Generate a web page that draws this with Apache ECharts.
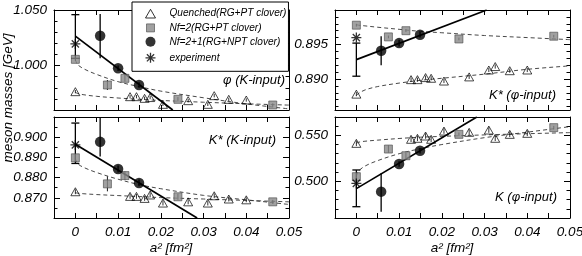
<!DOCTYPE html>
<html><head><meta charset="utf-8">
<script src="https://cdn.jsdelivr.net/npm/echarts@6/dist/echarts.min.js"></script>
<style>html,body{margin:0;padding:0;background:#fff}#c{width:582px;height:256px}</style>
</head><body><div id="c"></div>
<script>
// ---------- data (a^2 in fm^2, masses in GeV) ----------
const xQuenched = [0, 0.0128, 0.0143, 0.0162, 0.0175, 0.0205, 0.0264, 0.031, 0.0325, 0.0359, 0.040];
const xNf2 = [0, 0.0075, 0.0116, 0.0240, 0.0462];
const xNf21 = [0.0058, 0.0100, 0.0149];
const xExp = [0];
const xFit = [0, 0.0005, 0.002, 0.005, 0.01, 0.015, 0.02, 0.03, 0.04, 0.05];
const xTickLabels = [0, 0.01, 0.02, 0.03, 0.04, 0.05];

// phi (K-input)
const phiK_q = [0.9765, 0.972, 0.972, 0.9705, 0.9712, 0.9651, 0.9684, 0.9651, 0.9729, 0.9696, 0.969];
const phiK_qErr = [0.0015, 0.0015, 0.0015, 0.0015, 0.0015, 0.0015, 0.0015, 0.0015, 0.0015, 0.0015, 0.0015];
const phiK_nf2 = [1.0056, 0.9825, 0.9885, 0.9696, 0.9645];
const phiK_nf2Err = [0.0015, 0.0045, 0.003, 0.002, 0.0015];
const phiK_nf21 = [1.0269, 0.9975, 0.9825];
const phiK_nf21Lo = [1.0065, 0.995, 0.980];
const phiK_nf21Hi = [1.0465, 1.000, 0.985];
const phiK_exp = [1.0195];
const phiK_extrap = [1.0065, 1.0458];
const phiK_lineX = [0, 0.0228];
const phiK_lineY = [1.0265, 0.96];
const phiK_fitQ = [0.976, 0.9749, 0.9737, 0.9723, 0.9708, 0.9696, 0.9686, 0.967, 0.9656, 0.9644];
const phiK_fitNf2 = [1.0055, 1.001, 0.997, 0.992, 0.9855, 0.981, 0.977, 0.971, 0.9655, 0.961];
const phiK_yLabels = [1.0, 1.05];

// K* (K-input)
const kstK_q = [0.873, 0.8707, 0.8707, 0.8697, 0.8714, 0.8674, 0.868, 0.8674, 0.871, 0.8694, 0.869];
const kstK_qErr = [0.0012, 0.0012, 0.0012, 0.0012, 0.0012, 0.0012, 0.0012, 0.0012, 0.0012, 0.0012, 0.0012];
const kstK_nf2 = [0.8898, 0.8769, 0.881, 0.8705, 0.868];
const kstK_nf2Err = [0.0015, 0.0037, 0.002, 0.0015, 0.001];
const kstK_nf21 = [0.8977, 0.8843, 0.8773];
const kstK_nf21Lo = [0.8905, 0.8825, 0.8757];
const kstK_nf21Hi = [0.910, 0.886, 0.879];
const kstK_exp = [0.8962];
const kstK_extrap = [0.887, 0.907];
const kstK_lineX = [0, 0.0285];
const kstK_lineY = [0.8965, 0.86];
const kstK_fitQ = [0.8725, 0.8723, 0.872, 0.8716, 0.8711, 0.8706, 0.8701, 0.8694, 0.8687, 0.868];
const kstK_fitNf2 = [0.8895, 0.887, 0.885, 0.8825, 0.8792, 0.8765, 0.8745, 0.8712, 0.869, 0.8667];
const kstK_yLabels = [0.87, 0.88, 0.89, 0.90];

// K* (phi-input)
const kstP_q = [0.8878, 0.8899, 0.8899, 0.8902, 0.8901, 0.8897, 0.8903, 0.8913, 0.8918, 0.8912, 0.8913];
const kstP_qErr = [0.0003, 0.0003, 0.0003, 0.0003, 0.0003, 0.0003, 0.0003, 0.0003, 0.0003, 0.0003, 0.0003];
const kstP_nf2 = [0.8978, 0.8961, 0.897, 0.8958, 0.8962];
const kstP_nf2Err = [0.0002, 0.0002, 0.0002, 0.0002, 0.0002];
const kstP_nf21 = [0.8941, 0.8952, 0.8964];
const kstP_nf21Lo = [0.892, 0.8947, 0.896];
const kstP_nf21Hi = [0.8962, 0.8957, 0.8968];
const kstP_exp = [0.896];
const kstP_extrap = [0.8904, 0.8952];
const kstP_lineX = [0, 0.0305];
const kstP_lineY = [0.8928, 0.900];
const kstP_fitQ = [0.8876, 0.8879, 0.8884, 0.8889, 0.8894, 0.8898, 0.8901, 0.8907, 0.8914, 0.8919];
const kstP_fitNf2 = [0.8979, 0.8978, 0.8977, 0.8975, 0.8972, 0.8969, 0.8967, 0.8963, 0.896, 0.8957];
const kstP_yLabels = [0.89, 0.895];

// K (phi-input)
const kP_q = [0.5413, 0.5457, 0.5468, 0.5493, 0.5457, 0.5547, 0.5533, 0.5558, 0.5468, 0.5511, 0.5522];
const kP_qErr = [0.003, 0.003, 0.003, 0.003, 0.003, 0.003, 0.003, 0.003, 0.003, 0.003, 0.003];
const kP_nf2 = [0.505, 0.5351, 0.5278, 0.5511, 0.5584];
const kP_nf2Err = [0.004, 0.004, 0.003, 0.002, 0.002];
const kP_nf21 = [0.4887, 0.5188, 0.5333];
const kP_nf21Lo = [0.4668, 0.5158, 0.5303];
const kP_nf21Hi = [0.5087, 0.5218, 0.5363];
const kP_exp = [0.4977];
const kP_extrap = [0.4723, 0.5123];
const kP_lineX = [0, 0.0282];
const kP_lineY = [0.492, 0.570];
const kP_fitQ = [0.5413, 0.5425, 0.5436, 0.5448, 0.5466, 0.548, 0.5489, 0.5505, 0.5518, 0.553];
const kP_fitNf2 = [0.5055, 0.511, 0.5165, 0.5225, 0.53, 0.5355, 0.54, 0.5475, 0.5535, 0.5595];
const kP_yLabels = [0.50, 0.55];

const legendNames = ['Quenched(RG+PT clover)', 'Nf=2(RG+PT clover)', 'Nf=2+1(RG+NPT clover)', 'experiment'];

// ---------- layout ----------
const FONT = '"Liberation Sans", Arial, sans-serif';
const X_MIN = -0.005, X_MAX = 0.05;
const STAR = 'path://M0,-5L0,5M-5,0L5,0M-3.6,-3.6L3.6,3.6M-3.6,3.6L3.6,-3.6';
// legend icons: a 28x10 box with the marker drawn in its middle
const ICON_TRI = 'path://M0,0M28,10M9,9.5L14,0.8L19,9.5Z';
const ICON_RECT = 'path://M0,0M28,10M10,1L18,1L18,9L10,9Z';
const ICON_CIRC = 'path://M0,0M28,10M19,5A5,5,0,1,1,9,5A5,5,0,1,1,19,5Z';
const ICON_STAR = 'path://M0,0M28,10M14,0L14,10M9,5L19,5M10.4,1.4L17.6,8.6M10.4,8.6L17.6,1.4';

function steps(a, b, s) {
  const out = [];
  const n0 = Math.ceil(a / s - 1e-7), n1 = Math.floor(b / s + 1e-7);
  for (let k = n0; k <= n1; k++) out.push(+(k * s).toFixed(6));
  return out;
}
const zip = (xs, ys) => xs.map((x, i) => [x, ys[i]]);

const panels = [
  {grid: {left: 54, top: 10, width: 235, height: 100}, ymin: 0.96, ymax: 1.05, majorStep: 0.05, minorStep: 0.01, labels: phiK_yLabels, xlab: false,
   q: phiK_q, qe: phiK_qErr, n2: phiK_nf2, n2e: phiK_nf2Err, n21: phiK_nf21, lo: phiK_nf21Lo, hi: phiK_nf21Hi, ex: phiK_exp, extrap: phiK_extrap, lx: phiK_lineX, ly: phiK_lineY, fq: phiK_fitQ, f2: phiK_fitNf2},
  {grid: {left: 54, top: 117, width: 235, height: 101}, ymin: 0.86, ymax: 0.91, majorStep: 0.01, minorStep: 0.005, labels: kstK_yLabels, xlab: true,
   q: kstK_q, qe: kstK_qErr, n2: kstK_nf2, n2e: kstK_nf2Err, n21: kstK_nf21, lo: kstK_nf21Lo, hi: kstK_nf21Hi, ex: kstK_exp, extrap: kstK_extrap, lx: kstK_lineX, ly: kstK_lineY, fq: kstK_fitQ, f2: kstK_fitNf2},
  {grid: {left: 335, top: 10, width: 235, height: 100}, ymin: 0.8855, ymax: 0.900, majorStep: 0.005, minorStep: 0.001, labels: kstP_yLabels, xlab: false,
   q: kstP_q, qe: kstP_qErr, n2: kstP_nf2, n2e: kstP_nf2Err, n21: kstP_nf21, lo: kstP_nf21Lo, hi: kstP_nf21Hi, ex: kstP_exp, extrap: kstP_extrap, lx: kstP_lineX, ly: kstP_lineY, fq: kstP_fitQ, f2: kstP_fitNf2},
  {grid: {left: 335, top: 117, width: 235, height: 101}, ymin: 0.46, ymax: 0.57, majorStep: 0.05, minorStep: 0.01, labels: kP_yLabels, xlab: true,
   q: kP_q, qe: kP_qErr, n2: kP_nf2, n2e: kP_nf2Err, n21: kP_nf21, lo: kP_nf21Lo, hi: kP_nf21Hi, ex: kP_exp, extrap: kP_extrap, lx: kP_lineX, ly: kP_lineY, fq: kP_fitQ, f2: kP_fitNf2}
];

const labelStyle = {fontFamily: FONT, fontStyle: 'italic', fontSize: 13.5, color: '#000'};
const grids = [], xAxes = [], yAxes = [], series = [];

function renderErr(params, api) {
  const x = api.value(0), lo = api.value(1), hi = api.value(2), cap = api.value(3), w = api.value(4);
  const a = api.coord([x, lo]), b = api.coord([x, hi]);
  const st = {stroke: '#000', lineWidth: w};
  const ch = [{type: 'line', shape: {x1: a[0], y1: a[1], x2: b[0], y2: b[1]}, style: st}];
  if (cap > 0) {
    ch.push({type: 'line', shape: {x1: a[0] - cap, y1: a[1], x2: a[0] + cap, y2: a[1]}, style: st});
    ch.push({type: 'line', shape: {x1: b[0] - cap, y1: b[1], x2: b[0] + cap, y2: b[1]}, style: st});
  }
  return {type: 'group', children: ch};
}

panels.forEach((p, i) => {
  grids.push(Object.assign({containLabel: false, outerBoundsMode: 'none', show: false}, p.grid));
  const xt = steps(X_MIN, X_MAX, 0.005);
  ['bottom', 'top'].forEach(pos => {
    xAxes.push({
      gridIndex: i, type: 'value', position: pos, min: X_MIN, max: X_MAX,
      axisLine: {show: true, onZero: false, lineStyle: {color: '#000', width: 1}},
      axisTick: {show: true, inside: true, length: 5, customValues: xt, lineStyle: {color: '#000', width: 1}},
      axisLabel: Object.assign({show: pos === 'bottom' && p.xlab, customValues: xTickLabels, margin: 7,
        formatter: v => (Math.abs(v) < 1e-9 ? '0' : (+v).toFixed(2))}, labelStyle),
      splitLine: {show: false}
    });
  });
  const majors = steps(p.ymin, p.ymax, p.majorStep);
  const minors = steps(p.ymin, p.ymax, p.minorStep).filter(v => !majors.some(m => Math.abs(m - v) < 1e-7));
  ['left', 'right'].forEach(pos => {
    yAxes.push({
      gridIndex: i, type: 'value', position: pos, min: p.ymin, max: p.ymax,
      axisLine: {show: true, onZero: false, lineStyle: {color: '#000', width: 1}},
      axisTick: {show: true, inside: true, length: 6, customValues: majors, lineStyle: {color: '#000', width: 1}},
      axisLabel: Object.assign({show: pos === 'left', customValues: p.labels, margin: 7,
        formatter: v => (+v).toFixed(3)}, labelStyle),
      splitLine: {show: false}
    });
    yAxes.push({
      gridIndex: i, type: 'value', position: pos, min: p.ymin, max: p.ymax,
      axisLine: {show: false, onZero: false},
      axisTick: {show: true, inside: true, length: 3.5, customValues: minors, lineStyle: {color: '#000', width: 1}},
      axisLabel: {show: false},
      splitLine: {show: false}
    });
  });
  const xi = 2 * i, yi = 4 * i;
  const base = {xAxisIndex: xi, yAxisIndex: yi, silent: true, animation: false};
  series.push(Object.assign({type: 'line', name: 'fitQ' + i, data: zip(xFit, p.fq), showSymbol: false, symbol: 'none', smooth: 0.35,
    lineStyle: {color: '#333', width: 0.9, type: [4, 3]}, z: 1}, base));
  series.push(Object.assign({type: 'line', name: 'fitN' + i, data: zip(xFit, p.f2), showSymbol: false, symbol: 'none', smooth: 0.35,
    lineStyle: {color: '#333', width: 0.9, type: [4, 3]}, z: 1}, base));
  series.push(Object.assign({type: 'line', name: 'line' + i, data: zip(p.lx, p.ly), showSymbol: false, symbol: 'none',
    lineStyle: {color: '#000', width: 1.7}, z: 2}, base));
  const err = [];
  xQuenched.forEach((x, k) => err.push([x, p.q[k] - p.qe[k], p.q[k] + p.qe[k], 0, 0.8]));
  xNf2.forEach((x, k) => err.push([x, p.n2[k] - p.n2e[k], p.n2[k] + p.n2e[k], 0, 0.9]));
  xNf21.forEach((x, k) => err.push([x, p.lo[k], p.hi[k], 0, 1.3]));
  err.push([0, p.extrap[0], p.extrap[1], 4, 1.3]);
  series.push(Object.assign({type: 'custom', name: 'err' + i, renderItem: renderErr, data: err,
    encode: {x: 0, y: [1, 2]}, z: 3}, base));
  series.push(Object.assign({type: 'scatter', name: legendNames[0], data: zip(xQuenched, p.q), symbol: 'triangle', symbolSize: [9, 8],
    itemStyle: {color: 'rgba(255,255,255,0)', borderColor: '#000', borderWidth: 0.9}, z: 4}, base));
  series.push(Object.assign({type: 'scatter', name: legendNames[1], data: zip(xNf2, p.n2), symbol: 'rect', symbolSize: 8,
    itemStyle: {color: '#8a8a8a', borderColor: '#4a4a4a', borderWidth: 0.8}, z: 5}, base));
  series.push(Object.assign({type: 'scatter', name: legendNames[2], data: zip(xNf21, p.n21), symbol: 'circle', symbolSize: 10.5,
    itemStyle: {color: '#000'}, z: 6}, base));
  series.push(Object.assign({type: 'scatter', name: legendNames[3], data: zip(xExp, p.ex), symbol: STAR, symbolSize: 10,
    itemStyle: {color: 'none', borderColor: '#000', borderWidth: 1.3}, z: 7}, base));
});

const txt = (x, y, text, align, size, extra) => Object.assign({
  type: 'text', x: x, y: y, z: 50,
  style: {text: text, fill: '#000', font: 'italic ' + size + 'px ' + FONT,
    textAlign: align, align: align, textVerticalAlign: 'middle', verticalAlign: 'middle'}
}, extra || {});

const option = {
  animation: false,
  backgroundColor: '#fff',
  grid: grids, xAxis: xAxes, yAxis: yAxes, series: series,
  legend: {
    left: 132, top: 2, orient: 'vertical', z: 20,
    backgroundColor: '#fff', borderColor: '#000', borderWidth: 1, borderRadius: 0,
    padding: [6, 2, 6, 2], itemWidth: 28, itemHeight: 10, itemGap: 3.5, selectedMode: false,
    textStyle: {fontFamily: FONT, fontStyle: 'italic', fontSize: 10.1, color: '#000', lineHeight: 10},
    data: [
      {name: legendNames[0], icon: ICON_TRI, itemStyle: {color: '#fff', borderColor: '#000', borderWidth: 1}},
      {name: legendNames[1], icon: ICON_RECT, itemStyle: {color: '#8a8a8a', borderColor: '#4a4a4a', borderWidth: 0.8}},
      {name: legendNames[2], icon: ICON_CIRC, itemStyle: {color: '#000', borderWidth: 0}},
      {name: legendNames[3], icon: ICON_STAR, itemStyle: {color: 'none', borderColor: '#000', borderWidth: 1.3}}
    ]
  },
  graphic: [
    txt(285, 80, 'φ (K-input)', 'right', 13),
    txt(276, 140, 'K* (K-input)', 'right', 13),
    txt(556, 95, 'K* (φ-input)', 'right', 13),
    txt(557, 197, 'K (φ-input)', 'right', 13),
    txt(171, 248, 'a² [fm²]', 'center', 13.5),
    txt(452, 248, 'a² [fm²]', 'center', 13.5),
    txt(8, 98, 'meson masses [GeV]', 'center', 13.5, {rotation: Math.PI / 2})
  ]
};

const chart = echarts.init(document.getElementById('c'), null, {renderer: 'canvas'});
chart.setOption(option);
</script>
</body></html>
